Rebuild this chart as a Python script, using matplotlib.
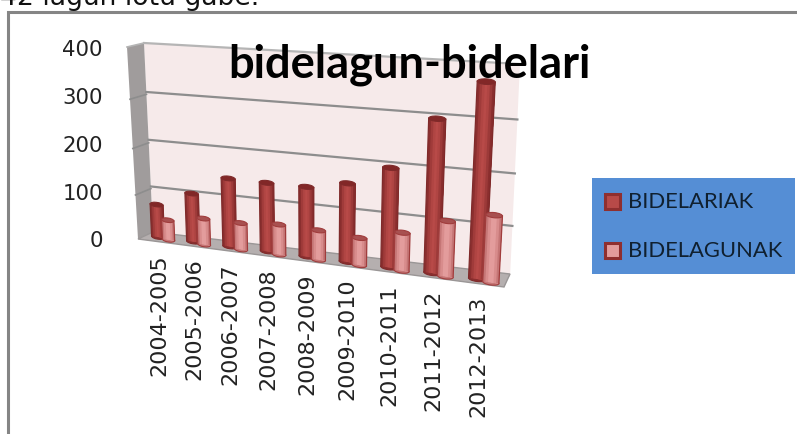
import numpy as np
import matplotlib
matplotlib.use("Agg")
import matplotlib.pyplot as plt
from matplotlib.patches import Ellipse, Rectangle, Polygon
from matplotlib.transforms import Transform

categories = ["2004-2005", "2005-2006", "2006-2007", "2007-2008", "2008-2009",
              "2009-2010", "2010-2011", "2011-2012", "2012-2013"]
bidelariak = [66, 96, 133, 132, 132, 146, 181, 272, 338]
bidelagunak = [40, 52, 52, 58, 56, 51, 70, 100, 119]
y_ticks = [0, 100, 200, 300, 400]
series_names = ["BIDELARIAK", "BIDELAGUNAK"]
title_text = "bidelagun-bidelari"
caption_text = "42 lagun lotu gabe."


class Homography(Transform):
    """Perspective map of a (u, v) plane onto the pixel-coordinate axes."""
    input_dims = 2
    output_dims = 2
    is_separable = False
    has_inverse = False

    def __init__(self, src, dst):
        super().__init__()
        A, b = [], []
        for (x, y), (X, Y) in zip(src, dst):
            A.append([x, y, 1, 0, 0, 0, -X * x, -X * y]); b.append(X)
            A.append([0, 0, 0, x, y, 1, -Y * x, -Y * y]); b.append(Y)
        self.H = np.append(np.linalg.solve(np.array(A, float), np.array(b, float)), 1).reshape(3, 3)

    def transform_non_affine(self, values):
        values = np.asarray(values, float)
        p = np.c_[values, np.ones(len(values))] @ self.H.T
        return p[:, :2] / p[:, 2:3]


fig = plt.figure(figsize=(7.97, 4.35), dpi=100, facecolor="white")
ax = fig.add_axes([0, 0, 1, 1])
ax.set_xlim(0, 797)
ax.set_ylim(435, 0)
ax.autoscale(False)
ax.axis("off")

# planes: back wall, side wall, bar plane
wall = Homography([(0, 0), (1, 0), (0, 400), (1, 400)],
                  [(153, 233), (510, 278), (144, 44), (520, 65)]) + ax.transData
side = Homography([(0, 0), (1, 0), (0, 400), (1, 400)],
                  [(153, 233), (138, 240), (144, 44), (127, 48)]) + ax.transData
bars = Homography([(0, 0), (8, 0), (0, 400), (8, 400)],
                  [(158, 238), (477, 280), (149, 32), (488, 44)]) + ax.transData

# chart frame and caption
ax.plot([8.5, 8.5, 797], [435, 12.5, 12.5], color="#858585", lw=2.2, solid_joinstyle="miter")
ax.text(0, 5, caption_text, fontsize=19.2, family="DejaVu Sans", color="#111111",
        ha="left", va="baseline")

# walls and floor
ax.add_patch(Rectangle((0, 0), 1, 400, transform=wall, fc="#f6eaea", ec="none", zorder=1))
ax.add_patch(Rectangle((0, 0), 1, 400, transform=side, fc="#a09c9c", ec="none", zorder=1))
ax.add_patch(Polygon([(138, 240), (153, 233), (510, 275), (504, 288)], closed=True,
                     fc="#b5afaf", ec="#9a9696", lw=1, zorder=1))
for v in y_ticks[1:]:
    ax.plot([0, 1], [v, v], transform=wall, color="#8d8d8d" if v < 400 else "#b5b5b5",
            lw=1.6, zorder=2)
    ax.plot([0, 1], [v, v], transform=side, color="#8d8d8d" if v < 400 else "#b5b5b5",
            lw=1.2, zorder=2)

# value axis labels
for v, py in zip(y_ticks, [241, 194.5, 146.5, 98.5, 50.5]):
    ax.text(103, py, str(v), fontsize=15.3, family="DejaVu Sans", color="#222222",
            ha="right", va="center")


def cylinder(u, value, width, base, shades, cap, edge, zorder):
    n = len(shades)
    w = width / n
    ax.add_patch(Ellipse((u, base), width, 9, transform=bars, fc=shades[0], ec=edge, lw=0.8, zorder=zorder))
    for k, c in enumerate(shades):
        # each strip runs to the right edge, so the next one paints over it without seams
        left = u - width / 2 + k * w
        ax.bar(left, value, width=width - k * w, bottom=base, align="edge", color=c,
               transform=bars, zorder=zorder + 0.1 + 0.001 * k, lw=0)
    ax.plot([u - width / 2] * 2, [base, base + value], transform=bars, color=edge, lw=0.9, zorder=zorder + 0.2)
    ax.plot([u + width / 2] * 2, [base, base + value], transform=bars, color=edge, lw=0.9, zorder=zorder + 0.2)
    ax.add_patch(Ellipse((u, base + value), width, 9, transform=bars, fc=cap, ec=edge, lw=0.8, zorder=zorder + 0.3))


dark_shades = ["#8b2f2f", "#a03b3a", "#b04543", "#b84a48", "#b04543", "#9c3a39", "#8a2e2e"]
light_shades = ["#c57676", "#d88c8c", "#e39c9c", "#e39c9c", "#d88c8c", "#c57676"]
for i, (a, b) in enumerate(zip(bidelariak, bidelagunak)):
    base_z = 3 + i
    cylinder(i, a, 0.37, 0, dark_shades, "#822727", "#7f2a2a", base_z)
    cylinder(i + 0.30, b, 0.35, -3, light_shades, "#a85050", "#a03c3c", base_z + 0.5)
    ax.annotate(categories[i], xy=(i, 0), xycoords=bars, xytext=(1, -16), textcoords="offset pixels",
                rotation=90, ha="center", va="top", fontsize=16, family="DejaVu Sans", color="#222222",
                zorder=30)

# title
ax.text(409, 65, title_text, fontsize=32.6, family="Lato", weight="bold", color="black",
        ha="center", va="center", zorder=40)

# legend
ax.add_patch(Rectangle((592, 179), 203, 96, fc="#558ed5", ec="none", zorder=20))
for y, fill, name in zip([202, 251], ["#b84a48", "#e39c9c"], series_names):
    ax.add_patch(Rectangle((605.5, y - 7.5), 15, 15, fc=fill, ec="#8f2f2f", lw=2.2, zorder=21))
    ax.text(628, y, name, fontsize=15.8, family="Lato", color="#10202f", ha="left", va="center", zorder=21)

fig.savefig("out.png", dpi=100)
